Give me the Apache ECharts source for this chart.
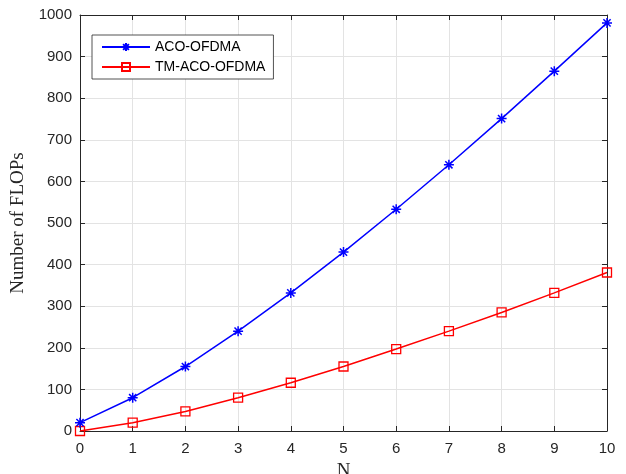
<!DOCTYPE html>
<html><head><meta charset="utf-8">
<script src="https://cdn.jsdelivr.net/npm/echarts@6/dist/echarts.min.js"></script>
<style>html,body{margin:0;padding:0;background:#fff;overflow:hidden;}#c{width:626px;height:474px;}</style>
</head><body><div id="c"></div>
<script>
var categories = [0,1,2,3,4,5,6,7,8,9,10];
var acoOfdma = [20, 80, 155, 240, 332, 430, 533, 640, 751, 865, 981];
var tmAcoOfdma = [0, 20, 47, 80, 116, 155, 197, 240, 285, 332, 381];
var seriesNames = ['ACO-OFDMA', 'TM-ACO-OFDMA'];
var xTicks = [0,1,2,3,4,5,6,7,8,9,10];
var yTicks = [0,100,200,300,400,500,600,700,800,900,1000];

var chart = echarts.init(document.getElementById('c'), null, {renderer:'canvas', width:626, height:474});
var axisCol = '#262626';
var star = 'path://M0,-5L0,5M-5,0L5,0M-3.6,-3.6L3.6,3.6M-3.6,3.6L3.6,-3.6';
function pairs(v){ return categories.map(function(x,i){return [x, v[i]];}); }
var tickFont = {fontFamily:'Liberation Sans, Arial, sans-serif', fontSize:15, color:axisCol};
chart.setOption({
  animation:false,
  backgroundColor:'#fff',
  grid:{left:80, width:527, top:15, height:416, containLabel:false, outerBoundsMode:'none'},
  legend:{
    orient:'vertical', left:92, top:35, width:188,
    backgroundColor:'#fff', borderColor:axisCol, borderWidth:0.8,
    padding:[5,8,5,9], itemGap:6, itemWidth:48, itemHeight:10,
    textStyle:{fontFamily:'Liberation Sans, Arial, sans-serif', fontSize:14, color:'#000'},
    data:seriesNames
  },
  xAxis:[{
    type:'value', min:0, max:10, interval:1,
    name:'N', nameLocation:'middle', nameGap:31,
    nameTextStyle:{fontFamily:'Liberation Serif, Times New Roman, serif', fontSize:19, color:axisCol, verticalAlign:'top'},
    axisLine:{show:true, lineStyle:{color:axisCol, width:1}},
    axisTick:{show:true, inside:true, length:5, lineStyle:{color:axisCol}},
    axisLabel:Object.assign({margin:10, formatter:function(v){return xTicks.indexOf(v)>=0?String(v):'';}}, tickFont),
    splitLine:{show:true, lineStyle:{color:'#e3e3e3', width:1}}
  },{
    type:'value', position:'top', min:0, max:10, interval:1,
    axisLine:{show:true, onZero:false, lineStyle:{color:axisCol, width:1}},
    axisTick:{show:true, inside:true, length:5, lineStyle:{color:axisCol}},
    axisLabel:{show:false}, splitLine:{show:false}
  }],
  yAxis:[{
    type:'value', min:0, max:1000, interval:100,
    name:'Number of FLOPs', nameLocation:'middle', nameGap:50,
    nameTextStyle:{fontFamily:'Liberation Serif, Times New Roman, serif', fontSize:19, color:axisCol},
    axisLine:{show:true, lineStyle:{color:axisCol, width:1}},
    axisTick:{show:true, inside:true, length:5, lineStyle:{color:axisCol}},
    axisLabel:Object.assign({margin:8, formatter:function(v){return yTicks.indexOf(v)>=0?String(v):'';}}, tickFont),
    splitLine:{show:true, lineStyle:{color:'#e3e3e3', width:1}}
  },{
    type:'value', position:'right', min:0, max:1000, interval:100,
    axisLine:{show:true, onZero:false, lineStyle:{color:axisCol, width:1}},
    axisTick:{show:true, inside:true, length:5, lineStyle:{color:axisCol}},
    axisLabel:{show:false}, splitLine:{show:false}
  }],
  series:[{
    name:seriesNames[0], type:'line', data:pairs(acoOfdma),
    symbol:star, symbolSize:10, symbolKeepAspect:true, showAllSymbol:true,
    lineStyle:{color:'#0000ff', width:1.5},
    itemStyle:{color:'none', borderColor:'#0000ff', borderWidth:1.5},
    emphasis:{disabled:true}, z:3
  },{
    name:seriesNames[1], type:'line', data:pairs(tmAcoOfdma),
    symbol:'rect', symbolSize:9, showAllSymbol:true,
    lineStyle:{color:'#ff0000', width:1.5},
    itemStyle:{color:'none', borderColor:'#ff0000', borderWidth:1.3},
    emphasis:{disabled:true}, z:2
  }]
});
</script></body></html>
